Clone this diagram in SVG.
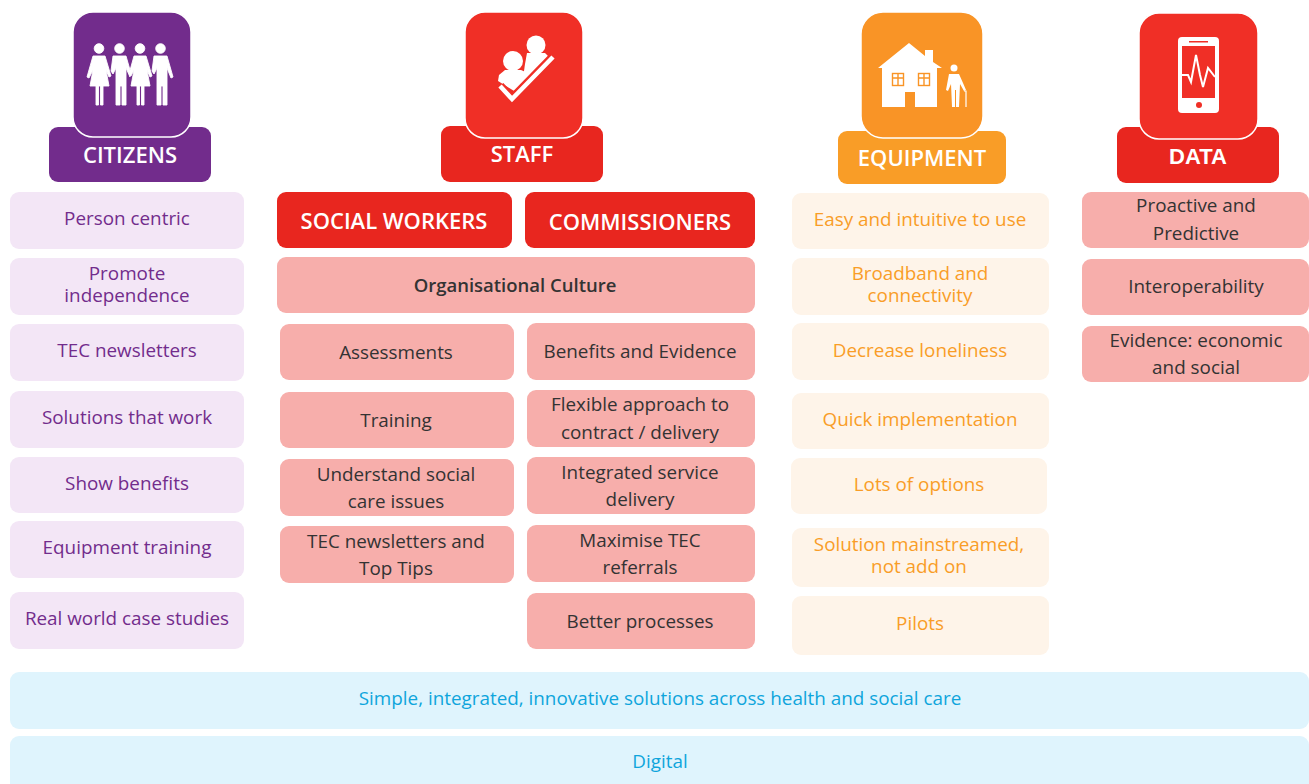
<svg xmlns="http://www.w3.org/2000/svg" width="1309" height="784" viewBox="0 0 1309 784">
<style>
text{font-family:"Open Sans","Noto Sans","Liberation Sans",sans-serif;font-size:18.85px;text-anchor:middle}
.head{font-weight:600;font-size:22px;fill:#fff}
.ic{stroke:#fff;stroke-width:1.5px}
.tab{stroke:none}
.p{fill:#f3e6f6}.pt{fill:#722c8c}
.r{fill:#f7aeab}.rt{fill:#333}
.o{fill:#fef4e9}.ot{fill:#f99d27}
.b{fill:#dff4fd}.bt{fill:#0ea5dc}
.w{fill:#fff;stroke:none}
</style>
<rect width="1309" height="784" fill="#fff"/>

<g id="citizens-header">
<rect class="tab" x="49" y="127" width="162" height="55" rx="9" fill="#722c8c"/>
<rect class="ic" x="73" y="12" width="118" height="125" rx="20" fill="#722c8c"/>
<g id="citizens-icon" fill="#fff" stroke="#fff" stroke-width="0.9">
<circle cx="99" cy="48.500" r="4.800"/><circle cx="119.500" cy="48.500" r="4.800"/><circle cx="140" cy="48.500" r="4.800"/><circle cx="160.500" cy="48.500" r="4.800"/>
<path d="M93 56h12l6 20-2 1-3-7 3 16h-6v19h-2.500V86h-2v19H96V86h-6l3-16-4 8-2-1z"/>
<path d="M113 56h13l4 14v7l-4-9v37h-4V86h-2v19h-4V68l-3 6-2-3z"/>
<path d="M134 56h12l6 20-2 1-3-7 3 16h-6v19h-2.500V86h-2v19H137V86h-6l3-16-3 6-2-2z"/>
<path d="M154 56h13l6 21-2 1-4-10v37h-4V86h-2v19h-4V68l-3 6-2-3z"/>
</g>
<text class="head" x="130" y="163">CITIZENS</text>
</g>

<g id="staff-header">
<rect class="tab" x="441" y="126" width="162" height="56" rx="9" fill="#e8261f"/>
<rect class="ic" x="465" y="12" width="118" height="126" rx="20" fill="#f02f26"/>
<g id="staff-icon">
<circle class="w" cx="536" cy="45" r="9.500"/>
<path class="w" d="M527 53h18l4 4-24 24-2-3 2-14z"/>
<circle class="w" cx="513" cy="61" r="10"/>
<path class="w" d="M505 70h16l9 4 2 7-13 13-21-13 1-6z"/>
<path d="M500 86l12 13 41-42" fill="none" stroke="#f02f26" stroke-width="9"/>
<path d="M500 86l12 13 41-42" fill="none" stroke="#fff" stroke-width="4.500"/>
</g>
<text class="head" x="522" y="162">STAFF</text>
</g>

<g id="equipment-header">
<rect class="tab" x="838" y="131" width="168" height="53" rx="9" fill="#f99d27"/>
<rect class="ic" x="861" y="12" width="122" height="126" rx="22" fill="#f99426"/>
<g id="equipment-icon">
<path class="w" d="M878 68L909 43L925 56V50H933V62L942 68H937V107H915V92H905V107H882V68Z"/>
<g fill="none" stroke="#f99426" stroke-width="1.400"><rect x="892.500" y="73.500" width="11" height="12"/><rect x="918.500" y="73.500" width="11" height="12"/><path d="M898 74v12M924 74v12M892 78h12M918 78h12"/></g>
<circle class="w" cx="954" cy="68" r="3.500"/>
<path class="w" d="M949 74h10l4 9 3 7-2 1-4-7-1 23h-3v-17h-1v17h-3l-1-23-3 7-2-1z"/>
<path d="M964 91h2v16" stroke="#fff" stroke-width="1.200" fill="none"/>
</g>
<text class="head" x="922" y="166">EQUIPMENT</text>
</g>

<g id="data-header">
<rect class="tab" x="1117" y="127" width="162" height="56" rx="9" fill="#e8261f"/>
<rect class="ic" x="1139" y="13" width="119" height="126" rx="20" fill="#f02f26"/>
<g id="data-icon">
<rect class="w" x="1178" y="37" width="41" height="76" rx="4"/>
<rect x="1182" y="46" width="33" height="52" fill="#f02f26"/>
<rect x="1189" y="41" width="19" height="1.500" fill="#f02f26"/>
<circle cx="1199" cy="105" r="3" fill="#f02f26"/>
<path d="M1182 75h6l3 7 5-27 4 20 3 12 5-19 7 9" fill="none" stroke="#fff" stroke-width="2"/>
</g>
<text class="head" x="1198" y="164" style="font-family:'Liberation Sans',sans-serif;font-weight:700">DATA</text>
</g>

<g id="citizens-items">
<g id="c1"><rect class="p" x="10" y="192" width="234" height="57" rx="9"/><text class="pt" x="127" y="225">Person centric</text></g>
<g id="c2"><rect class="p" x="10" y="258" width="234" height="57" rx="9"/><text class="pt" x="127" y="280">Promote</text><text class="pt" x="127" y="302">independence</text></g>
<g id="c3"><rect class="p" x="10" y="324" width="234" height="57" rx="9"/><text class="pt" x="127" y="357">TEC newsletters</text></g>
<g id="c4"><rect class="p" x="10" y="391" width="234" height="57" rx="9"/><text class="pt" x="127" y="424">Solutions that work</text></g>
<g id="c5"><rect class="p" x="10" y="457" width="234" height="56" rx="9"/><text class="pt" x="127" y="490">Show benefits</text></g>
<g id="c6"><rect class="p" x="10" y="521" width="234" height="57" rx="9"/><text class="pt" x="127" y="554">Equipment training</text></g>
<g id="c7"><rect class="p" x="10" y="592" width="234" height="57" rx="9"/><text class="pt" x="127" y="625">Real world case studies</text></g>
</g>

<g id="staff-items">
<g id="sw"><rect x="277" y="192" width="235" height="56" rx="9" fill="#e8261f"/><text class="head" x="394" y="229">SOCIAL WORKERS</text></g>
<g id="com"><rect x="525" y="192" width="230" height="56" rx="9" fill="#e8261f"/><text class="head" x="640" y="230">COMMISSIONERS</text></g>
<g id="culture"><rect class="r" x="277" y="257" width="478" height="56" rx="9"/><text class="rt" x="515" y="292" style="font-weight:600;font-size:18.5px">Organisational Culture</text></g>
<g id="s1"><rect class="r" x="280" y="324" width="234" height="56" rx="9"/><text class="rt" x="396" y="359">Assessments</text></g>
<g id="s2"><rect class="r" x="280" y="392" width="234" height="56" rx="9"/><text class="rt" x="396" y="427">Training</text></g>
<g id="s3"><rect class="r" x="280" y="459" width="234" height="57" rx="9"/><text class="rt" x="396" y="481">Understand social</text><text class="rt" x="396" y="508">care issues</text></g>
<g id="s4"><rect class="r" x="280" y="526" width="234" height="57" rx="9"/><text class="rt" x="396" y="548">TEC newsletters and</text><text class="rt" x="396" y="575">Top Tips</text></g>
<g id="m1"><rect class="r" x="527" y="323" width="228" height="57" rx="9"/><text class="rt" x="640" y="358">Benefits and Evidence</text></g>
<g id="m2"><rect class="r" x="527" y="390" width="228" height="57" rx="9"/><text class="rt" x="640" y="411">Flexible approach to</text><text class="rt" x="640" y="439">contract / delivery</text></g>
<g id="m3"><rect class="r" x="527" y="457" width="228" height="57" rx="9"/><text class="rt" x="640" y="479">Integrated service</text><text class="rt" x="640" y="506">delivery</text></g>
<g id="m4"><rect class="r" x="527" y="525" width="228" height="57" rx="9"/><text class="rt" x="640" y="547">Maximise TEC</text><text class="rt" x="640" y="574">referrals</text></g>
<g id="m5"><rect class="r" x="527" y="593" width="228" height="56" rx="9"/><text class="rt" x="640" y="628">Better processes</text></g>
</g>

<g id="equipment-items">
<g id="e1"><rect class="o" x="792" y="193" width="257" height="56" rx="9"/><text class="ot" x="920" y="226">Easy and intuitive to use</text></g>
<g id="e2"><rect class="o" x="792" y="258" width="257" height="57" rx="9"/><text class="ot" x="920" y="280">Broadband and</text><text class="ot" x="920" y="302">connectivity</text></g>
<g id="e3"><rect class="o" x="792" y="323" width="257" height="57" rx="9"/><text class="ot" x="920" y="357">Decrease loneliness</text></g>
<g id="e4"><rect class="o" x="792" y="393" width="257" height="56" rx="9"/><text class="ot" x="920" y="426">Quick implementation</text></g>
<g id="e5"><rect class="o" x="791" y="458" width="256" height="56" rx="9"/><text class="ot" x="919" y="491">Lots of options</text></g>
<g id="e6"><rect class="o" x="792" y="528" width="257" height="59" rx="9"/><text class="ot" x="919" y="551">Solution mainstreamed,</text><text class="ot" x="919" y="573">not add on</text></g>
<g id="e7"><rect class="o" x="792" y="596" width="257" height="59" rx="9"/><text class="ot" x="920" y="630">Pilots</text></g>
</g>

<g id="data-items">
<g id="d1"><rect class="r" x="1082" y="192" width="227" height="56" rx="9"/><text class="rt" x="1196" y="212">Proactive and</text><text class="rt" x="1196" y="240">Predictive</text></g>
<g id="d2"><rect class="r" x="1082" y="259" width="227" height="56" rx="9"/><text class="rt" x="1196" y="293">Interoperability</text></g>
<g id="d3"><rect class="r" x="1082" y="326" width="227" height="56" rx="9"/><text class="rt" x="1196" y="347">Evidence: economic</text><text class="rt" x="1196" y="374">and social</text></g>
</g>

<g id="bottom-bars">
<g id="b1"><rect class="b" x="10" y="672" width="1299" height="57" rx="9"/><text class="bt" x="660" y="705">Simple, integrated, innovative solutions across health and social care</text></g>
<g id="b2"><rect class="b" x="10" y="736" width="1299" height="58" rx="9"/><text class="bt" x="660" y="768">Digital</text></g>
</g>
<g id="connectors"/>
</svg>
